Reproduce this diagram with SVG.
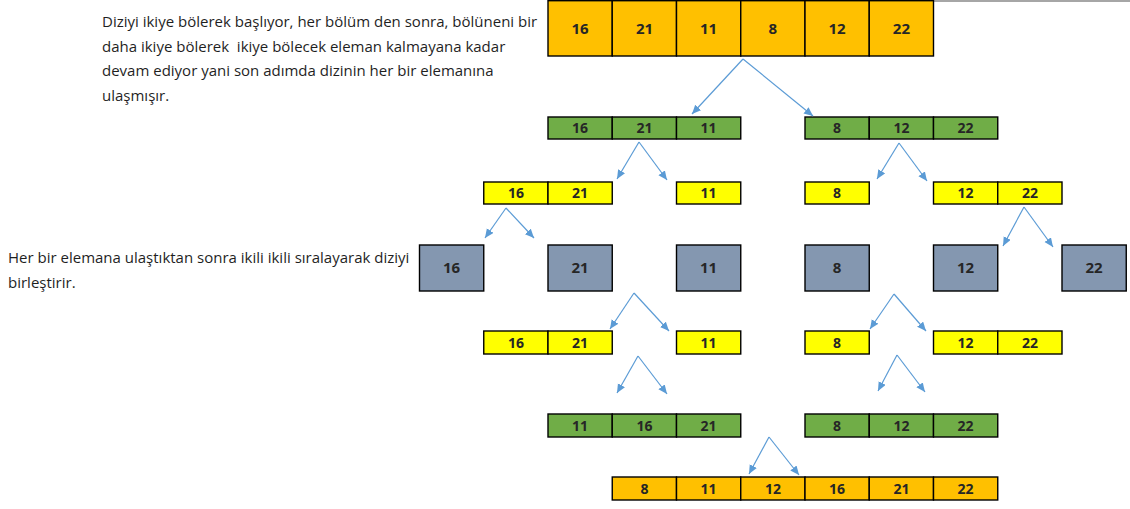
<svg xmlns="http://www.w3.org/2000/svg" width="1130" height="509" viewBox="0 0 1130 509">
<style>
.c{stroke:#000;stroke-width:1.4}
.o{fill:#FFC000}.g{fill:#70AD47}.y{fill:#FFFF00}.s{fill:#8497B0}
.n{font-family:"Open Sans","Noto Sans",sans-serif;font-weight:bold;font-size:14px;fill:#262626;text-anchor:middle}
.big{font-size:15px}
.p{font-family:"Open Sans","Noto Sans",sans-serif;font-size:15px;fill:#1f1f1f;white-space:pre}
.a{stroke:#5B9BD5;stroke-width:1.2;fill:none;marker-end:url(#ah)}
</style>
<defs>
<marker id="ah" markerWidth="10" markerHeight="10" refX="9" refY="4" orient="auto" markerUnits="userSpaceOnUse">
<path d="M0,0 L9,4 L0,8 Z" fill="#5B9BD5"/>
</marker>
</defs>
<rect width="1130" height="509" fill="#fff"/>
<line x1="933" y1="1" x2="1130" y2="1" stroke="#a6a6a6" stroke-width="2"/>

<g id="desc1">
<text class="p" x="102" y="27">Diziyi ikiye bölerek başlıyor, her bölüm den sonra, bölüneni bir</text>
<text class="p" x="102" y="51.5" xml:space="preserve">daha ikiye bölerek  ikiye bölecek eleman kalmayana kadar</text>
<text class="p" x="102" y="76">devam ediyor yani son adımda dizinin her bir elemanına</text>
<text class="p" x="102" y="100.5">ulaşmışır.</text>
</g>
<g id="desc2">
<text class="p" x="8" y="263">Her bir elemana ulaştıktan sonra ikili ikili sıralayarak diziyi</text>
<text class="p" x="8" y="287.5">birleştirir.</text>
</g>

<g id="row0">
<rect class="c o" x="548" y="0.7" width="64.25" height="55.3"/>
<rect class="c o" x="612.25" y="0.7" width="64.25" height="55.3"/>
<rect class="c o" x="676.5" y="0.7" width="64.25" height="55.3"/>
<rect class="c o" x="740.75" y="0.7" width="64.25" height="55.3"/>
<rect class="c o" x="805" y="0.7" width="64.25" height="55.3"/>
<rect class="c o" x="869.25" y="0.7" width="64.25" height="55.3"/>
<text class="n big" x="580" y="34">16</text>
<text class="n big" x="644.5" y="34">21</text>
<text class="n big" x="708.6" y="34">11</text>
<text class="n big" x="772.9" y="34">8</text>
<text class="n big" x="837" y="34">12</text>
<text class="n big" x="901.4" y="34">22</text>
</g>

<g id="row1-left">
<rect class="c g" x="548" y="117" width="64.25" height="22"/>
<rect class="c g" x="612.25" y="117" width="64.25" height="22"/>
<rect class="c g" x="676.5" y="117" width="64.25" height="22"/>
<text class="n" x="580" y="133">16</text>
<text class="n" x="644.5" y="133">21</text>
<text class="n" x="708.6" y="133">11</text>
</g>
<g id="row1-right">
<rect class="c g" x="805" y="117" width="64.25" height="22"/>
<rect class="c g" x="869.25" y="117" width="64.25" height="22"/>
<rect class="c g" x="933.5" y="117" width="64.25" height="22"/>
<text class="n" x="837" y="133">8</text>
<text class="n" x="901.4" y="133">12</text>
<text class="n" x="965.6" y="133">22</text>
</g>

<g id="row2-a">
<rect class="c y" x="483.75" y="182" width="64.25" height="22"/>
<rect class="c y" x="548" y="182" width="64.25" height="22"/>
<text class="n" x="515.9" y="198">16</text>
<text class="n" x="580" y="198">21</text>
</g>
<g id="row2-b">
<rect class="c y" x="676.5" y="182" width="64.25" height="22"/>
<text class="n" x="708.6" y="198">11</text>
</g>
<g id="row2-c">
<rect class="c y" x="805" y="182" width="64.25" height="22"/>
<text class="n" x="837" y="198">8</text>
</g>
<g id="row2-d">
<rect class="c y" x="933.5" y="182" width="64.25" height="22"/>
<rect class="c y" x="997.75" y="182" width="64.25" height="22"/>
<text class="n" x="965.6" y="198">12</text>
<text class="n" x="1029.9" y="198">22</text>
</g>

<g id="row3-16"><rect class="c s" x="419.5" y="245" width="64.25" height="46"/><text class="n big" x="451.6" y="273">16</text></g>
<g id="row3-21"><rect class="c s" x="548" y="245" width="64.25" height="46"/><text class="n big" x="580" y="273">21</text></g>
<g id="row3-11"><rect class="c s" x="676.5" y="245" width="64.25" height="46"/><text class="n big" x="708.6" y="273">11</text></g>
<g id="row3-8"><rect class="c s" x="805" y="245" width="64.25" height="46"/><text class="n big" x="837" y="273">8</text></g>
<g id="row3-12"><rect class="c s" x="933.5" y="245" width="64.25" height="46"/><text class="n big" x="965.6" y="273">12</text></g>
<g id="row3-22"><rect class="c s" x="1062" y="245" width="64.25" height="46"/><text class="n big" x="1094.1" y="273">22</text></g>

<g id="row4-a">
<rect class="c y" x="483.75" y="331" width="64.25" height="23"/>
<rect class="c y" x="548" y="331" width="64.25" height="23"/>
<text class="n" x="515.9" y="347.5">16</text>
<text class="n" x="580" y="347.5">21</text>
</g>
<g id="row4-b">
<rect class="c y" x="676.5" y="331" width="64.25" height="23"/>
<text class="n" x="708.6" y="347.5">11</text>
</g>
<g id="row4-c">
<rect class="c y" x="805" y="331" width="64.25" height="23"/>
<text class="n" x="837" y="347.5">8</text>
</g>
<g id="row4-d">
<rect class="c y" x="933.5" y="331" width="64.25" height="23"/>
<rect class="c y" x="997.75" y="331" width="64.25" height="23"/>
<text class="n" x="965.6" y="347.5">12</text>
<text class="n" x="1029.9" y="347.5">22</text>
</g>

<g id="row5-left">
<rect class="c g" x="548" y="414" width="64.25" height="23"/>
<rect class="c g" x="612.25" y="414" width="64.25" height="23"/>
<rect class="c g" x="676.5" y="414" width="64.25" height="23"/>
<text class="n" x="580" y="430.5">11</text>
<text class="n" x="644.5" y="430.5">16</text>
<text class="n" x="708.6" y="430.5">21</text>
</g>
<g id="row5-right">
<rect class="c g" x="805" y="414" width="64.25" height="23"/>
<rect class="c g" x="869.25" y="414" width="64.25" height="23"/>
<rect class="c g" x="933.5" y="414" width="64.25" height="23"/>
<text class="n" x="837" y="430.5">8</text>
<text class="n" x="901.4" y="430.5">12</text>
<text class="n" x="965.6" y="430.5">22</text>
</g>

<g id="row6">
<rect class="c o" x="612.25" y="477" width="64.25" height="23"/>
<rect class="c o" x="676.5" y="477" width="64.25" height="23"/>
<rect class="c o" x="740.75" y="477" width="64.25" height="23"/>
<rect class="c o" x="805" y="477" width="64.25" height="23"/>
<rect class="c o" x="869.25" y="477" width="64.25" height="23"/>
<rect class="c o" x="933.5" y="477" width="64.25" height="23"/>
<text class="n" x="644.5" y="493.5">8</text>
<text class="n" x="708.6" y="493.5">11</text>
<text class="n" x="772.9" y="493.5">12</text>
<text class="n" x="837" y="493.5">16</text>
<text class="n" x="901.4" y="493.5">21</text>
<text class="n" x="965.6" y="493.5">22</text>
</g>

<g id="connectors">
<line class="a" x1="743" y1="59" x2="692" y2="114"/>
<line class="a" x1="743" y1="59" x2="813" y2="116"/>
<line class="a" x1="639" y1="142" x2="617" y2="179"/>
<line class="a" x1="639" y1="142" x2="667" y2="180"/>
<line class="a" x1="899" y1="143" x2="877" y2="179"/>
<line class="a" x1="899" y1="143" x2="927" y2="181"/>
<line class="a" x1="506" y1="208" x2="485" y2="238"/>
<line class="a" x1="506" y1="208" x2="534" y2="238"/>
<line class="a" x1="1024" y1="207" x2="1003" y2="246"/>
<line class="a" x1="1024" y1="207" x2="1053" y2="247"/>
<line class="a" x1="634" y1="293" x2="610" y2="329"/>
<line class="a" x1="634" y1="293" x2="669" y2="331"/>
<line class="a" x1="894" y1="294" x2="870" y2="329"/>
<line class="a" x1="894" y1="294" x2="926" y2="331"/>
<line class="a" x1="638" y1="356" x2="617" y2="393"/>
<line class="a" x1="638" y1="356" x2="667" y2="394"/>
<line class="a" x1="897" y1="355" x2="878" y2="391"/>
<line class="a" x1="897" y1="355" x2="925" y2="392"/>
<line class="a" x1="769" y1="437" x2="749" y2="474"/>
<line class="a" x1="769" y1="437" x2="799" y2="475"/>
</g>
</svg>
